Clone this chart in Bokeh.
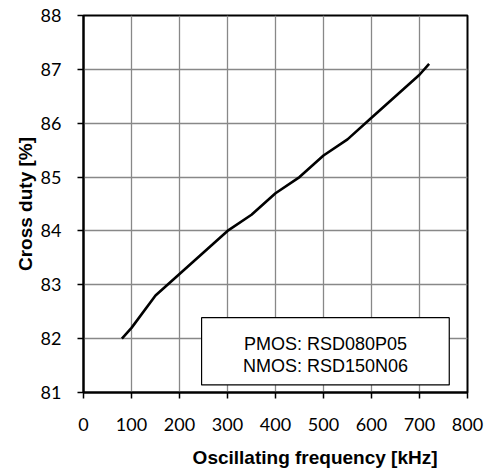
from bokeh.plotting import figure
from bokeh.models import Range1d, FixedTicker, BoxAnnotation, Label
from bokeh.embed import file_html
from bokeh.resources import INLINE

freq_khz = [80, 100, 150, 200, 250, 300, 350, 400, 450, 500, 550, 600, 650, 700, 720]
cross_duty = [82.0, 82.2, 82.8, 83.2, 83.6, 84.0, 84.3, 84.7, 85.0, 85.4, 85.7, 86.1, 86.5, 86.9, 87.1]
x_ticks = [0, 100, 200, 300, 400, 500, 600, 700, 800]
y_ticks = [81, 82, 83, 84, 85, 86, 87, 88]
legend_lines = ["PMOS: RSD080P05", "NMOS: RSD150N06"]
x_title = "Oscillating frequency [kHz]"
y_title = "Cross duty [%]"

p = figure(width=502, height=470, output_backend="svg", toolbar_location=None,
           x_range=Range1d(0, 800), y_range=Range1d(81, 88),
           min_border_left=83, min_border_top=15, min_border_right=35, min_border_bottom=78)
p.background_fill_color = "white"
p.border_fill_color = "white"
p.outline_line_color = "black"
p.outline_line_width = 2

p.line(freq_khz, cross_duty, line_color="black", line_width=2.6)

for ax, ticks in ((p.xaxis, x_ticks), (p.yaxis, y_ticks)):
    ax.ticker = FixedTicker(ticks=ticks)
    ax.axis_line_color = "black"
    ax.axis_line_width = 2
    ax.major_tick_line_color = "black"
    ax.major_tick_line_width = 1.5
    ax.major_tick_in = 0
    ax.major_tick_out = 6
    ax.minor_tick_line_color = None
    ax.major_label_text_font = "Lato"
    ax.major_label_text_font_size = "18px"
    ax.major_label_text_color = "black"
    ax.axis_label_text_font = "Liberation Sans"
    ax.axis_label_text_font_style = "bold"
    ax.axis_label_text_font_size = "19px"
    ax.axis_label_text_color = "black"

p.xaxis.major_label_standoff = 19
p.yaxis.major_label_standoff = 16
p.yaxis.axis_label = y_title
p.yaxis.axis_label_standoff = 2
# the original title sits right of centre: pad with non-breaking spaces
p.xaxis.axis_label = "\u00a0" * 15 + x_title
p.xaxis.axis_label_standoff = 13

p.xgrid.grid_line_color = "#888888"
p.xgrid.grid_line_width = 1.3
p.ygrid.grid_line_color = "#888888"
p.ygrid.grid_line_width = 1.3

box = BoxAnnotation(left=246, right=762, top=82.39, bottom=81.14,
                    fill_color="white", fill_alpha=1.0, line_color="black", line_alpha=1.0,
                    line_width=1.2)
p.add_layout(box)
for i, t in enumerate(legend_lines):
    p.add_layout(Label(x=504, y=[81.9, 81.5][i], text=t, text_align="center", text_baseline="middle",
                       text_font="Liberation Sans", text_font_size="18px", text_color="black"))

open("out.html", "w").write(file_html(p, INLINE))
